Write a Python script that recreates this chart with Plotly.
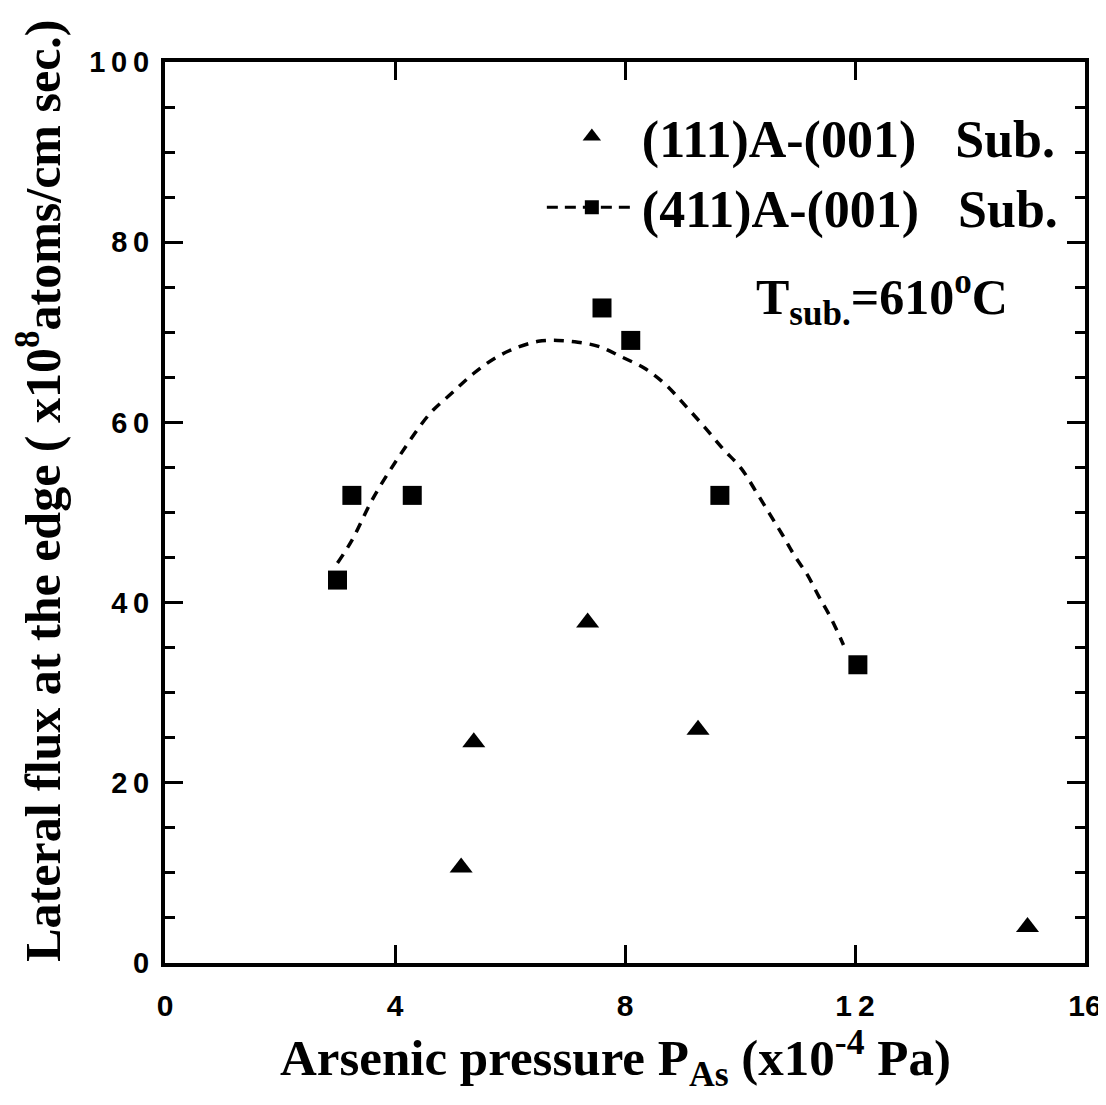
import plotly.graph_objects as go

# (411)A-(001) substrate, squares
sq_x = [3.0, 3.25, 4.3, 7.6, 8.1, 9.65, 12.05]
sq_y = [42.5, 51.9, 51.9, 72.7, 69.1, 51.9, 33.1]

# (111)A-(001) substrate, triangles
tri_x = [5.15, 5.37, 7.35, 9.27, 15.0]
tri_y = [10.6, 24.5, 37.8, 25.9, 4.0]

# dashed guide curve through the (411) points
fit_x = [3.0, 3.25, 3.62, 4.09, 4.61, 4.98, 5.36, 5.73, 6.08, 6.49, 6.83, 7.18,
         7.56, 7.93, 8.34, 8.69, 9.03, 9.38, 9.70, 10.02, 10.28, 10.51, 10.74,
         10.94, 11.17, 11.37, 11.58, 11.8]
fit_y = [44.4, 46.9, 51.6, 56.4, 61.0, 63.2, 65.4, 67.1, 68.2, 69.0, 69.1, 68.9,
         68.4, 67.3, 66.0, 64.3, 62.0, 59.5, 57.1, 54.9, 52.3, 49.9, 47.5,
         45.3, 43.1, 40.7, 38.3, 35.3]

x_ticks = [0, 4, 8, 12, 16]
y_ticks = [0, 20, 40, 60, 80, 100]
y_ticktext = ["0", "2\u20090", "4\u20090", "6\u20090", "8\u20090", "1\u20090\u20090"]
x_ticktext = ["0", "4", "8", "1\u20092", "16"]

serif = "Liberation Serif"
sans = "Liberation Sans"
nb = "\u00a0"

fig = go.Figure()

fig.add_trace(go.Scatter(
    x=fit_x, y=fit_y, mode="lines", line_shape="spline",
    line=dict(color="black", width=3.5, dash="10px,8px"),
    showlegend=False, hoverinfo="skip"))

fig.add_trace(go.Scatter(
    x=tri_x, y=tri_y, mode="markers",
    marker=dict(symbol="triangle-up", size=20, color="black"),
    name="(111)A-(001)" + nb * 3 + "Sub.", legendgroup="a"))

fig.add_trace(go.Scatter(
    x=sq_x, y=sq_y, mode="markers",
    marker=dict(symbol="square", size=19, color="black"),
    showlegend=False))

# legend entry for the squares with the dashed line through the symbol
fig.add_trace(go.Scatter(
    x=[None], y=[None], mode="lines+markers",
    marker=dict(symbol="square", size=14, color="black"),
    line=dict(color="black", width=3, dash="11px,7px"),
    name="(411)A-(001)" + nb * 3 + "Sub.", legendgroup="b"))

fig.add_annotation(
    x=0.918, y=0.739, xref="paper", yref="paper", showarrow=False,
    xanchor="right", yanchor="middle",
    text="T<sub>sub.</sub>=610<sup>o</sup>C",
    font=dict(family=serif, size=50, color="black", weight="bold"))

# axis titles
fig.add_annotation(
    x=-0.136, y=0.524, xref="paper", yref="paper", showarrow=False,
    xanchor="center", yanchor="middle", textangle=-90,
    text="Lateral flux at the edge ( x10<sup>8</sup>atoms/cm sec.)",
    font=dict(family=serif, size=50, color="black", weight="bold"))

fig.add_annotation(
    x=0.490, y=-0.105, xref="paper", yref="paper", showarrow=False,
    xanchor="center", yanchor="middle",
    text="Arsenic pressure P<sub>As</sub> (x10<sup>-4</sup> Pa)",
    font=dict(family=serif, size=51, color="black", weight="bold"))

axis_common = dict(
    showline=True, linewidth=4, linecolor="black", mirror="ticks",
    ticks="inside", tickcolor="black", tickwidth=3,
    showgrid=False, zeroline=False, automargin=False,
)

fig.update_xaxes(
    range=[0, 16], tickvals=x_ticks, ticktext=x_ticktext, ticklen=18,
    ticklabelstandoff=13,
    tickfont=dict(family=sans, size=30, color="black", weight="bold"),
    **axis_common)

fig.update_yaxes(
    range=[0, 100], tickvals=y_ticks, ticktext=y_ticktext, ticklen=18,
    ticklabelstandoff=6,
    minor=dict(dtick=5, ticklen=10, ticks="inside", tickcolor="black", tickwidth=3),
    tickfont=dict(family=sans, size=29, color="black", weight="bold"),
    **axis_common)

fig.update_layout(
    width=1106, height=1105,
    margin=dict(l=157, r=29, t=54, b=150),
    plot_bgcolor="white", paper_bgcolor="white",
    legend=dict(x=0.977, y=0.962, xanchor="right", yanchor="top",
                font=dict(family=serif, size=52, color="black", weight="bold"),
                itemwidth=90, bgcolor="rgba(0,0,0,0)",
                traceorder="grouped", tracegroupgap=0),
)

fig.write_html("out.html")
